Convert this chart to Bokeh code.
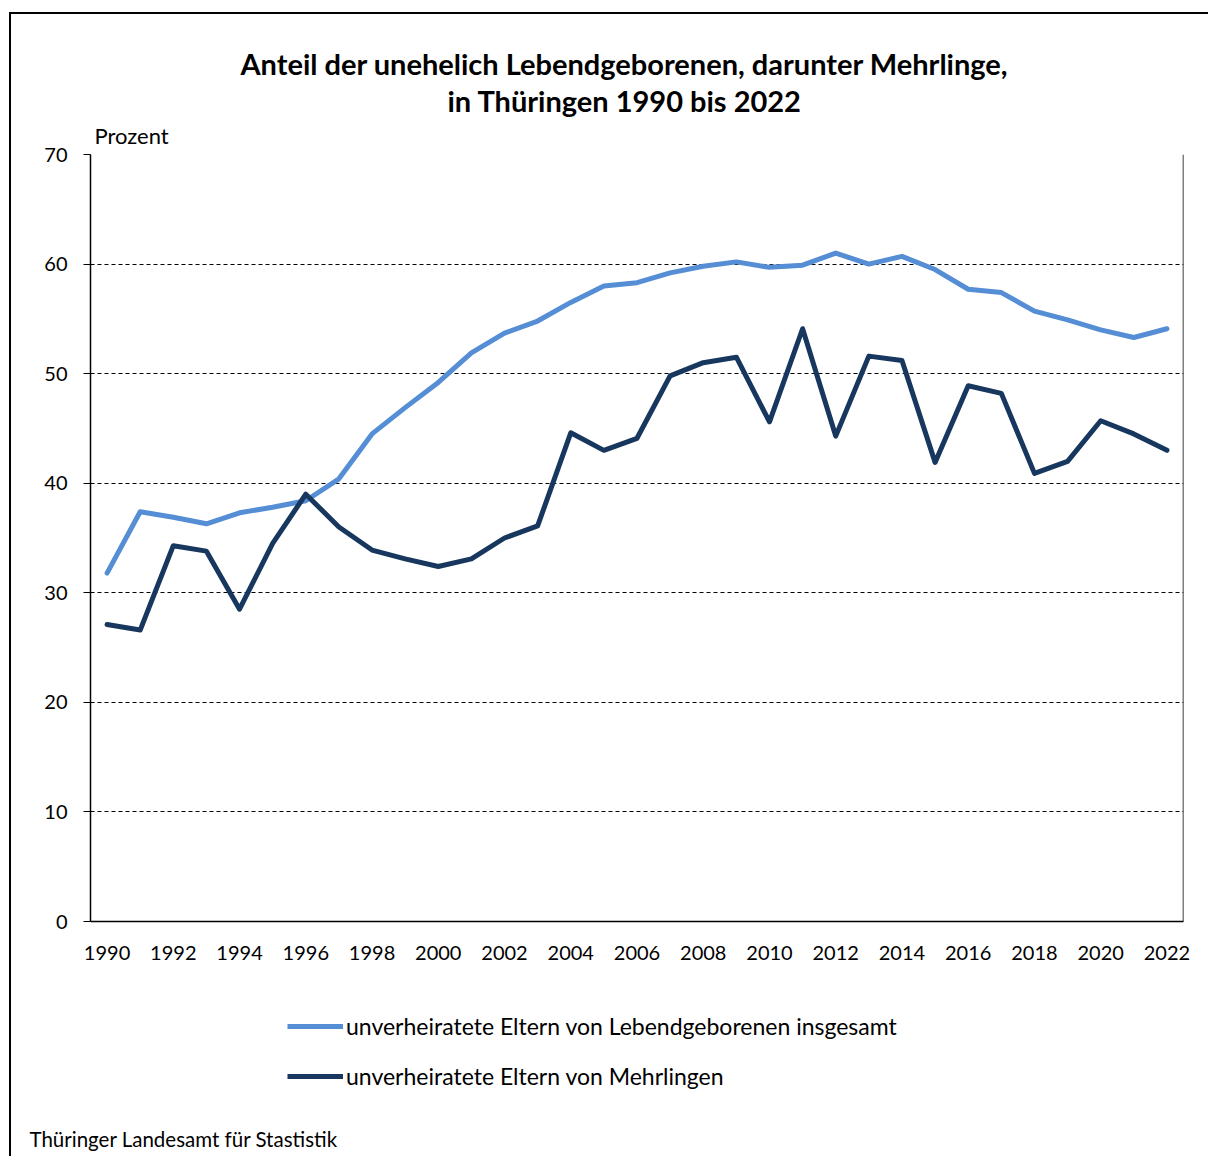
from bokeh.plotting import figure
from bokeh.layouts import column
from bokeh.models import (Range1d, FixedTicker, Legend, LegendItem, Span, Label,
                          Title)
from bokeh.embed import file_html
from bokeh.resources import INLINE

years = list(range(1990, 2023))
insgesamt = [31.8, 37.4, 36.9, 36.3, 37.3, 37.8, 38.4, 40.4, 44.5, 46.9,
             49.2, 51.9, 53.7, 54.8, 56.5, 58.0, 58.3, 59.2, 59.8, 60.2,
             59.7, 59.9, 61.0, 60.0, 60.7, 59.5, 57.7, 57.4, 55.7, 54.9,
             54.0, 53.3, 54.1]
mehrlinge = [27.1, 26.6, 34.3, 33.8, 28.5, 34.5, 39.0, 36.0, 33.9, 33.1,
             32.4, 33.1, 35.0, 36.1, 44.6, 43.0, 44.1, 49.8, 51.0, 51.5,
             45.6, 54.1, 44.3, 51.6, 51.2, 41.9, 48.9, 48.2, 40.9, 42.0,
             45.7, 44.5, 43.0]
x_ticks = list(range(1990, 2023, 2))
y_ticks = [0, 10, 20, 30, 40, 50, 60, 70]

title_lines = ["Anteil der unehelich Lebendgeborenen, darunter Mehrlinge,",
               "in Thüringen 1990 bis 2022"]
legend_labels = ["unverheiratete Eltern von Lebendgeborenen insgesamt",
                 "unverheiratete Eltern von Mehrlingen"]
y_unit = "Prozent"
source_text = "Thüringer Landesamt für Stastistik"

FONT = "Lato"
LIGHT = "#558ED5"
DARK = "#17375E"
W = 1208
FRAME_TOP, FRAME_BOTTOM = 154, 921
H_MAIN = 981
H_BOT = 1156 - H_MAIN

# ---- main chart (with title block in the above panel) ----
p = figure(width=W, height=H_MAIN, output_backend="svg", toolbar_location=None,
           x_range=Range1d(1989.5, 2022.5), y_range=Range1d(0, 70),
           min_border_left=90, min_border_right=25,
           min_border_top=FRAME_TOP,
           min_border_bottom=H_MAIN - FRAME_BOTTOM)
p.frame_align = False
p.outline_line_color = None
p.background_fill_color = "white"
p.border_fill_color = None

p.xaxis.ticker = FixedTicker(ticks=x_ticks)
p.yaxis.ticker = FixedTicker(ticks=y_ticks)
for ax in (p.xaxis[0], p.yaxis[0]):
    ax.axis_line_color = "black"
    ax.axis_line_width = 1.5
    ax.major_label_text_font = FONT
    ax.major_label_text_font_size = "20px"
    ax.major_label_text_color = "#000000"
    ax.minor_tick_line_color = None
p.xaxis.major_tick_line_color = None
p.xaxis.major_label_standoff = 18
p.yaxis.major_tick_line_color = "black"
p.yaxis.major_tick_out = 7
p.yaxis.major_tick_in = 0
p.yaxis.major_label_standoff = 16

p.xgrid.grid_line_color = None
p.ygrid.grid_line_color = "black"
p.ygrid.grid_line_dash = "4 3"
p.ygrid.grid_line_width = 1

p.add_layout(Span(location=2022.5, dimension="height", line_color="black",
                  line_width=1.5))

p.line(years, insgesamt, line_color=LIGHT, line_width=5,
       line_join="round", line_cap="round")
p.line(years, mehrlinge, line_color=DARK, line_width=5,
       line_join="round", line_cap="round")

# titles stacked outward from the frame
p.add_layout(Title(text=y_unit, align="left", offset=4, standoff=8,
                   vertical_align="top", text_font=FONT,
                   text_font_size="22px", text_font_style="normal",
                   text_color="#000000"), "above")
p.add_layout(Title(text=title_lines[1], align="left", offset=357, standoff=0,
                   vertical_align="bottom", text_font=FONT,
                   text_font_size="29px", text_font_style="bold",
                   text_color="#000000"), "above")
p.add_layout(Title(text=title_lines[0], align="left", offset=150, standoff=0,
                   vertical_align="bottom", text_font=FONT,
                   text_font_size="29px", text_font_style="bold",
                   text_color="#000000"), "above")

# ---- legend and source ----
pb = figure(width=W, height=H_BOT, output_backend="svg",
            toolbar_location=None, x_axis_type=None, y_axis_type=None,
            x_range=Range1d(0, W), y_range=Range1d(H_BOT, 0), min_border=0)
pb.frame_align = False
pb.outline_line_color = None
pb.background_fill_color = None
pb.border_fill_color = None
pb.xgrid.visible = False
pb.ygrid.visible = False
pb.extra_y_ranges = {"keys": Range1d(1000, 2000)}
k1 = pb.line(years, insgesamt, y_range_name="keys", line_color=LIGHT,
             line_width=5)
k2 = pb.line(years, mehrlinge, y_range_name="keys", line_color=DARK,
             line_width=5)
row_top = 1026 - 14 - H_MAIN
legend = Legend(items=[LegendItem(label=legend_labels[0], renderers=[k1]),
                       LegendItem(label=legend_labels[1], renderers=[k2])],
                location=(287, H_BOT - row_top - 78),
                orientation="vertical",
                glyph_width=56, glyph_height=28, label_height=28,
                label_standoff=3, spacing=22, padding=0, margin=0,
                border_line_color=None, background_fill_alpha=0,
                label_text_font=FONT, label_text_font_size="23px",
                label_text_color="#000000")
pb.add_layout(legend, "center")
pb.add_layout(Label(x=29, y=1138 - H_MAIN, text=source_text,
                    text_font=FONT, text_font_size="20.5px", text_align="left",
                    text_baseline="middle", text_color="#000000"))

layout = column(p, pb, spacing=0)
layout.styles = {
    "background": ("linear-gradient(#000,#000) 9px 12px / 2px 2000px no-repeat, "
                   "linear-gradient(#000,#000) 9px 12px / 2000px 2px no-repeat, "
                   "#ffffff"),
}

open("out.html", "w").write(file_html(layout, INLINE))
